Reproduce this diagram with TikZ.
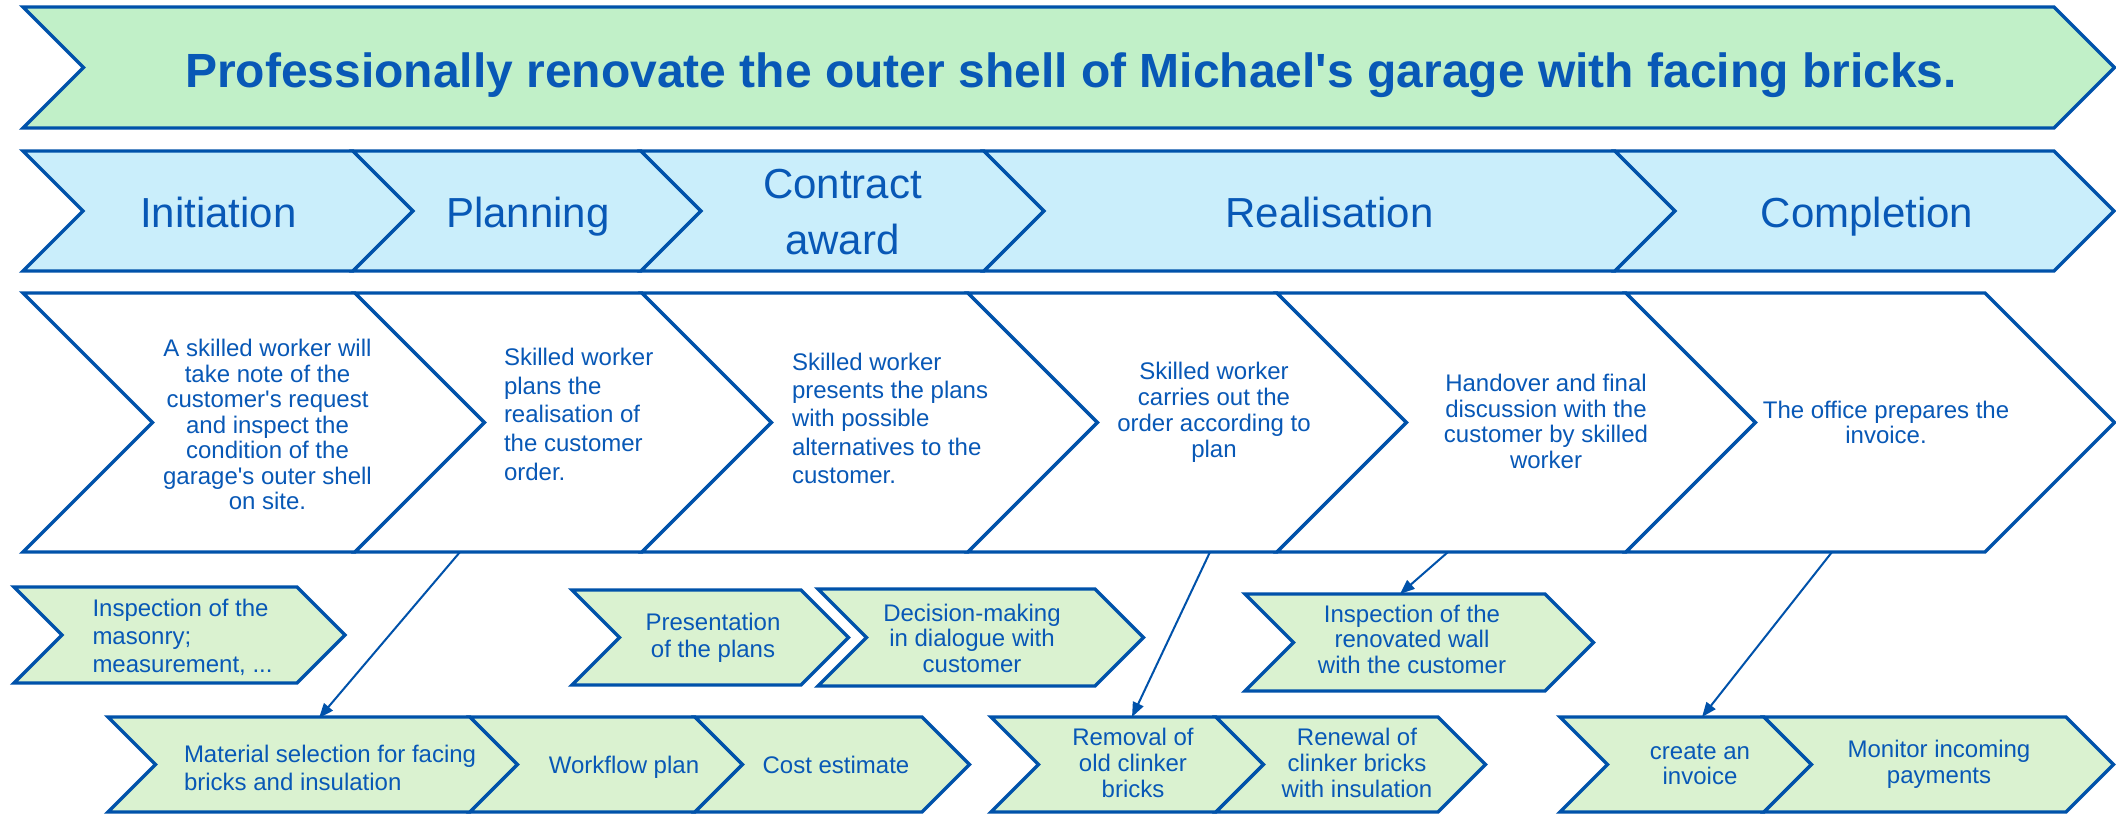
\documentclass[tikz,border=0pt]{standalone}
\usepackage{fontspec}
\setmainfont{Liberation Sans}[Ligatures=TeXOff]
\usetikzlibrary{arrows.meta}
\definecolor{lineblue}{RGB}{0,82,170}
\definecolor{txtblue}{RGB}{8,88,182}
\definecolor{titlegreen}{RGB}{193,240,200}
\definecolor{phaseblue}{RGB}{202,238,251}
\definecolor{taskgreen}{RGB}{218,242,208}
\newcommand\mychev[5]{%
  \pgfmathsetmacro\chd{(#4-#3)/2}%
  \pgfmathsetmacro\chm{(#3+#4)/2}%
  \draw[#5] (#1,#3) -- (#2,#3) -- (#2+\chd,\chm) -- (#2,#4) -- (#1,#4) -- (#1+\chd,\chm) -- cycle;}
\begin{document}
\begin{tikzpicture}[x=0.75pt,y=-0.75pt,
  chevline/.style={draw=lineblue,line width=2.5pt,line join=miter},
  titlebox/.style={chevline,fill=titlegreen},
  phasebox/.style={chevline,fill=phaseblue},
  descbox/.style={chevline,fill=white},
  taskbox/.style={chevline,fill=taskgreen},
  txt/.style={inner sep=0pt,outer sep=0pt,text=txtblue},
  desc/.style={txt,font=\fontsize{18}{#1}\selectfont},
  phase/.style={txt,font=\fontsize{31.5}{42}\selectfont},
  link/.style={draw=lineblue,line width=1.5pt,-{Triangle[length=11pt,width=8.5pt]}},
]
\useasboundingbox (0,0) rectangle (2116,814);
\fill[white] (0,0) rectangle (2116,814);

% ---------- title banner ----------
\mychev{23}{2054}{7}{128}{titlebox}
\node[txt,anchor=base,font=\fontsize{36}{43}\selectfont\bfseries] (title) at (1071,87)
  {Professionally renovate the outer shell of Michael's garage with facing bricks.};

% ---------- phase row ----------
\mychev{23}{353}{151}{271}{phasebox}
\mychev{353}{641}{151}{271}{phasebox}
\mychev{641}{984}{151}{271}{phasebox}
\mychev{984}{1615}{151}{271}{phasebox}
\mychev{1615}{2054}{151}{271}{phasebox}
\node[phase,anchor=base] (ph1) at (218.5,227) {Initiation};
\node[phase,anchor=base] (ph2) at (528,227) {Planning};
\node[phase,anchor=north,align=center] (ph3) at (842.5,169) {Contract\\award};
\node[phase,anchor=base] (ph4) at (1329.5,227) {Realisation};
\node[phase,anchor=base] (ph5) at (1867,227) {Completion};

% ---------- description row ----------
\mychev{23}{355}{293}{552}{descbox}
\mychev{355}{642}{293}{552}{descbox}
\mychev{642}{968}{293}{552}{descbox}
\mychev{968}{1277}{293}{552}{descbox}
\mychev{1277}{1626}{293}{552}{descbox}
\mychev{1626}{1985}{293}{552}{descbox}
\node[desc=19.1pt,anchor=north,align=center] (d1) at (267.5,339.5)
  {A skilled worker will\\take note of the\\customer's request\\and inspect the\\condition of the\\garage's outer shell\\on site.};
\node[desc=21.5pt,anchor=north west,align=left] (d2) at (504,348)
  {Skilled worker\\plans the\\realisation of\\the customer\\order.};
\node[desc=21.2pt,anchor=north west,align=left] (d3) at (792,353)
  {Skilled worker\\presents the plans\\with possible\\alternatives to the\\customer.};
\node[desc=19.5pt,anchor=north,align=center] (d4) at (1214,362)
  {Skilled worker\\carries out the\\order according to\\plan};
\node[desc=19.3pt,anchor=north,align=center] (d5) at (1546,374)
  {Handover and final\\discussion with the\\customer by skilled\\worker};
\node[desc=18.8pt,anchor=north,align=center] (d6) at (1886,401)
  {The office prepares the\\invoice.};

% ---------- task row 1 ----------
\mychev{14}{297}{587}{683}{taskbox}
\mychev{572}{801}{590}{685}{taskbox}
\mychev{818}{1095}{589}{686}{taskbox}
\mychev{1245}{1545}{594}{691}{taskbox}
\node[desc=21pt,anchor=north west,align=left] (tA) at (92.5,599)
  {Inspection of the\\masonry;\\measurement, ...};
\node[desc=20.3pt,anchor=north,align=center] (tB) at (713,613)
  {Presentation\\of the plans};
\node[desc=19.1pt,anchor=north,align=center] (tC) at (972,604)
  {Decision-making\\in dialogue with\\customer};
\node[desc=19.1pt,anchor=north,align=center] (tD) at (1412,605)
  {Inspection of the\\renovated wall\\with the customer};

% ---------- task row 2 ----------
\mychev{108}{470}{717}{812}{taskbox}
\mychev{470}{695}{717}{812}{taskbox}
\mychev{695}{922}{717}{812}{taskbox}
\mychev{991}{1216}{717}{812}{taskbox}
\mychev{1216}{1438}{717}{812}{taskbox}
\mychev{1560}{1764}{717}{812}{taskbox}
\mychev{1764}{2066}{717}{812}{taskbox}
\node[desc=21pt,anchor=north west,align=left] (tE) at (184,745)
  {Material selection for facing\\bricks and insulation};
\node[desc=21pt,anchor=base] (tF) at (624,773) {Workflow plan};
\node[desc=21pt,anchor=base] (tG) at (836,773) {Cost estimate};
\node[desc=19.5pt,anchor=north,align=center] (tH) at (1133,728)
  {Removal of\\old clinker\\bricks};
\node[desc=19.5pt,anchor=north,align=center] (tI) at (1357,728)
  {Renewal of\\clinker bricks\\with insulation};
\node[desc=18.8pt,anchor=north,align=center] (tJ) at (1700,743)
  {\vphantom{A}create an\\invoice};
\node[desc=19.5pt,anchor=north,align=center] (tK) at (1939,740)
  {Monitor incoming\\payments};

% ---------- connectors ----------
\coordinate (s2) at (460,552);
\coordinate (e2) at (319,718);
\coordinate (s4) at (1210,552);
\coordinate (e4) at (1132,717);
\coordinate (s5) at (1448,552);
\coordinate (e5) at (1400,594);
\coordinate (s6) at (1832,552);
\coordinate (e6) at (1702,717);
\draw[link] (s2) -- (e2);
\draw[link] (s4) -- (e4);
\draw[link] (s5) -- (e5);
\draw[link] (s6) -- (e6);
\end{tikzpicture}
\end{document}
